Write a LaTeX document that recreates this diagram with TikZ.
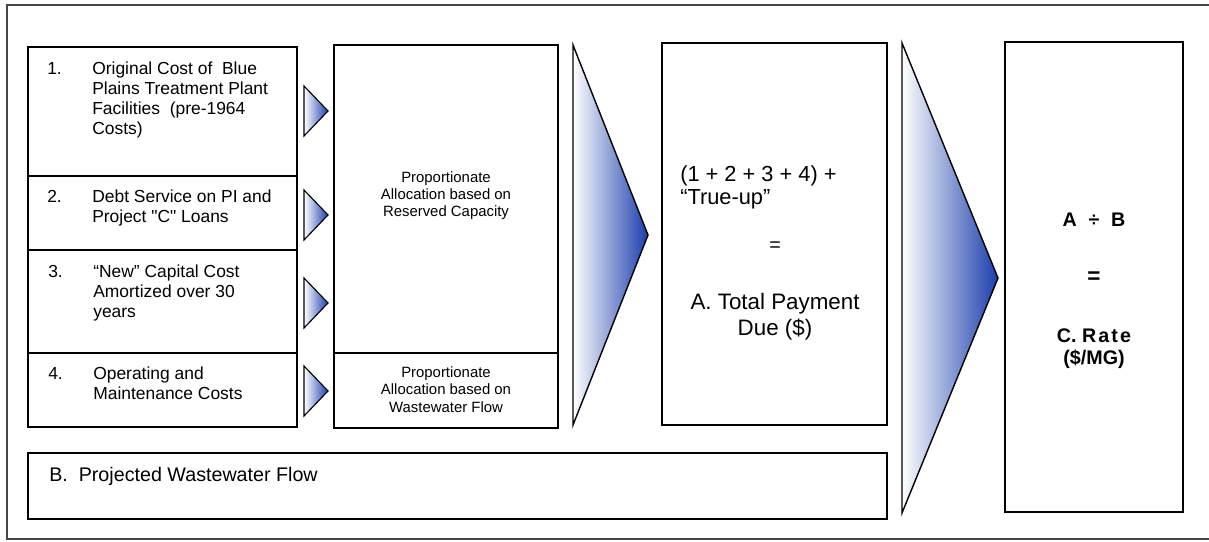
\documentclass[tikz,border=0pt]{standalone}
\usepackage{fontspec}
\setmainfont{Liberation Sans}

\definecolor{arrowblue}{RGB}{28,62,172}
\definecolor{framegray}{RGB}{70,70,70}

\begin{document}
\begin{tikzpicture}[x=0.025cm, y=-0.025cm,
    box/.style={rectangle, draw, line width=1.2pt, inner sep=0pt, outer sep=0pt},
    num/.style={anchor=north west, inner sep=0pt, font=\fontsize{12.4}{14.2}\selectfont},
    item/.style={anchor=north west, inner sep=0pt, align=left, font=\fontsize{12.4}{14.2}\selectfont},
    alloc/.style={inner sep=0pt, align=center, font=\fontsize{10.6}{12.3}\selectfont},
    bigtext/.style={inner sep=0pt, font=\fontsize{15.9}{18.5}\selectfont},
    ratetext/.style={inner sep=0pt, align=center, font=\fontsize{14}{15.6}\selectfont\bfseries}]
    \useasboundingbox (0,0) rectangle (1209,541);
    \draw[framegray, line width=0.9pt] (1209,5) -- (7,5) -- (7,539) -- (1209,539);

    \node[box, minimum width=6.725cm, minimum height=3.225cm] (cost1) at (162.5,111.5) {};
    \node[box, minimum width=6.725cm, minimum height=1.85cm] (cost2) at (162.5,213) {};
    \node[box, minimum width=6.725cm, minimum height=2.575cm] (cost3) at (162.5,301.5) {};
    \node[box, minimum width=6.725cm, minimum height=1.85cm] (cost4) at (162.5,390) {};
    \node[box, minimum width=5.6cm, minimum height=7.7cm] (capacity) at (446,199) {};
    \node[box, minimum width=5.6cm, minimum height=1.875cm] (wwflow) at (446,390.5) {};
    \node[box, minimum width=5.625cm, minimum height=9.55cm] (payment) at (774.5,234) {};
    \node[box, minimum width=21.475cm, minimum height=1.65cm] (projflow) at (457.5,486) {};
    \node[box, minimum width=4.45cm, minimum height=11.75cm] (rate) at (1094,277) {};

    \node[num] (num1) at (47,62) {1.};
    \node[item] (text1) at (92,62) {Original Cost of\ \ Blue\\Plains Treatment Plant\\Facilities\ \ (pre-1964\\Costs)};
    \node[num] (num2) at (47,190) {2.};
    \node[item] (text2) at (92,190) {Debt Service on PI and\\Project \textquotedbl C\textquotedbl{} Loans};
    \node[num] (num3) at (48,265) {3.};
    \node[item] (text3) at (93,265) {“New” Capital Cost\\Amortized over 30\\years};
    \node[num] (num4) at (48,367) {4.};
    \node[item] (text4) at (93,367) {Operating and\\Maintenance Costs};

    \node[alloc] (captext) at (446,195.5) {Proportionate\\Allocation based on\\Reserved Capacity};
    \node[alloc] (flowtext) at (446,389.5) {Proportionate\\Allocation based on\\Wastewater Flow};

    \node[anchor=north west, inner sep=0pt, align=left, font=\fontsize{15.5}{16.8}\selectfont] (sumtext) at (680,165) {(1 + 2 + 3 + 4) +\\“True-up”};
    \node[inner sep=0pt, font=\fontsize{14}{16}\selectfont] (eqA) at (775,247) {=};
    \node[bigtext, align=center] (total) at (775,317) {A. Total Payment\\Due (\$)};

    \node[anchor=west, inner sep=0pt, font=\fontsize{14}{16}\selectfont] (projtext) at (49,476) {B.\ \ Projected Wastewater Flow};

    \node[ratetext] (ratio) at (1094,220) {A\hspace{0.6em}÷\hspace{0.6em}B};
    \node[ratetext, font=\fontsize{16}{18}\selectfont\bfseries] (eqC) at (1094,278) {=};
    \node[ratetext] (ratelabel) at (1094,349) {C. R\kern1.5pt a\kern1.5pt t\kern1.5pt e\\(\$/MG)};

    \foreach \y in {111,215,303,391}
        \draw[line width=0.8pt, left color=white, middle color=arrowblue!30, right color=arrowblue]
            (304,\y-25) -- (328,\y) -- (304,\y+25) -- cycle;

    \draw[line width=1pt, left color=white, middle color=arrowblue!35, right color=arrowblue]
        (573,45) -- (648,235) -- (573,425) -- cycle;
    \draw[line width=1pt, left color=white, middle color=arrowblue!35, right color=arrowblue]
        (902,43) -- (998,278) -- (902,513) -- cycle;
\end{tikzpicture}
\end{document}
